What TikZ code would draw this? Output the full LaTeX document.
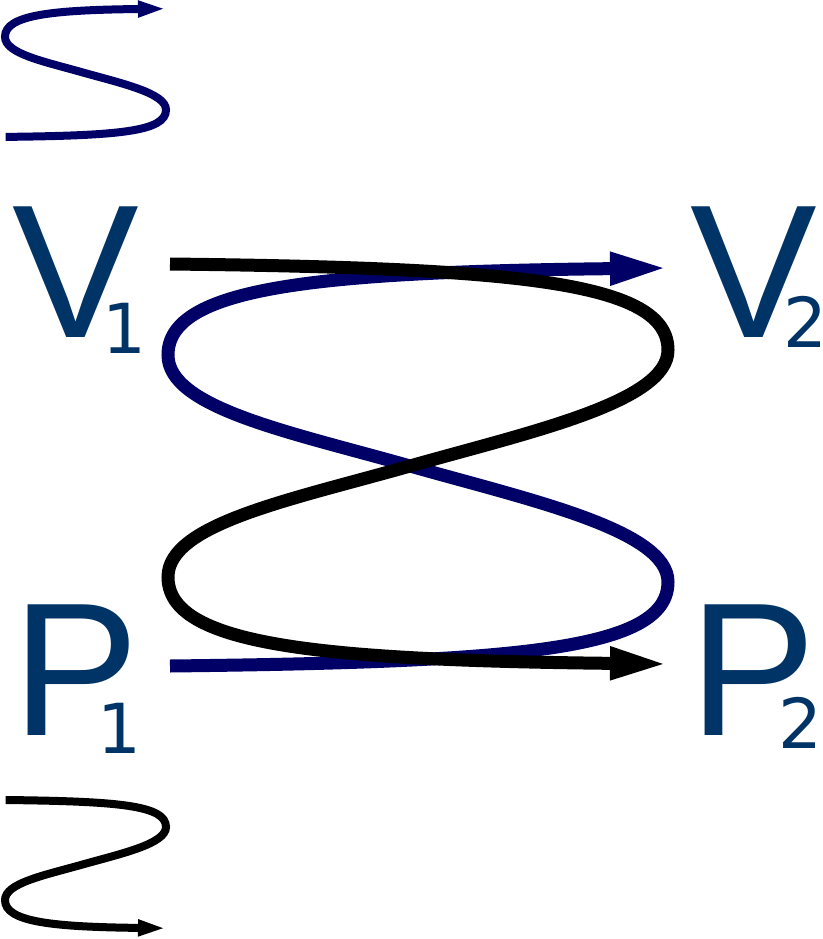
\documentclass[tikz,border=0pt]{standalone}
\usepackage{fontspec}
\setmainfont{Liberation Sans}
\newfontfamily\digitfont{DejaVu Sans}
\usepackage{xcolor}
\usepackage{tikz}
\usetikzlibrary{arrows.meta}

\definecolor{labelblue}{RGB}{0,51,102}
\definecolor{loopnavy}{RGB}{0,0,102}
\newcommand{\subidx}[3]{\kern#1{\digitfont\fontsize{69}{69}\selectfont\raisebox{#2}{#3}}}

\begin{document}
\begin{tikzpicture}[x=1pt,y=-1pt,
  lbl/.style={text=labelblue,inner sep=0pt,anchor=base west,font=\fontsize{190}{190}\selectfont},
  bigloop/.style={line width=13pt,-{Triangle[length=58pt,width=30pt]}},
  smallloop/.style={line width=8pt,-{Triangle[length=28pt,width=15pt]}}]
  \useasboundingbox (0,0) rectangle (822,939);

  % Labels
  \node[lbl] (v1) at (12,337) {V\subidx{-36pt}{-16pt}{1}};
  \node[lbl] (v2) at (690,337) {V\subidx{-33pt}{-10pt}{2}};
  \node[lbl] (p1) at (12,735) {P\subidx{-41pt}{-18pt}{1}};
  \node[lbl] (p2) at (689,735) {P\subidx{-37pt}{-13pt}{2}};

  % Navy loop: P1 -> V2
  \coordinate (ns) at (170,666);
  \coordinate (nr) at (668,582);
  \coordinate (cx) at (410,466); % crossing
  \coordinate (nl) at (168,355);
  \coordinate (ne) at (668,268);
  \draw[bigloop,loopnavy] (ns) .. controls (520,662) and (668,650) .. (nr)
    .. controls (668,530) and (530,500) .. (cx)
    .. controls (290,432) and (168,408) .. (nl)
    .. controls (168,287) and (316,272) .. (ne);

  % Black loop: V1 -> P2
  \coordinate (bs) at (170,264);
  \coordinate (br) at (668,350);
  \coordinate (bl) at (168,577);
  \coordinate (be) at (668,664);
  \draw[bigloop,black] (bs) .. controls (520,268) and (668,282) .. (br)
    .. controls (668,402) and (530,432) .. (cx)
    .. controls (290,500) and (168,524) .. (bl)
    .. controls (168,645) and (316,660) .. (be);

  % Small keys in the corners
  \draw[smallloop,loopnavy] (5.6,136.9) .. controls (118.3,135.6) and (166,131.7) .. (166,109.8)
    .. controls (166,93.1) and (121.6,83.4) .. (82.9,72.5)
    .. controls (44.3,61.5) and (5,53.8) .. (5,36.7)
    .. controls (5,14.8) and (52.7,10) .. (166,8.7);
  \draw[smallloop,black] (5.6,800) .. controls (118.3,801.3) and (166,805.2) .. (166,827)
    .. controls (166,843.8) and (121.6,853.5) .. (82.9,864.4)
    .. controls (44.3,875.3) and (5,883.1) .. (5,900.1)
    .. controls (5,922) and (52.7,926.9) .. (166,928.2);
\end{tikzpicture}
\end{document}
